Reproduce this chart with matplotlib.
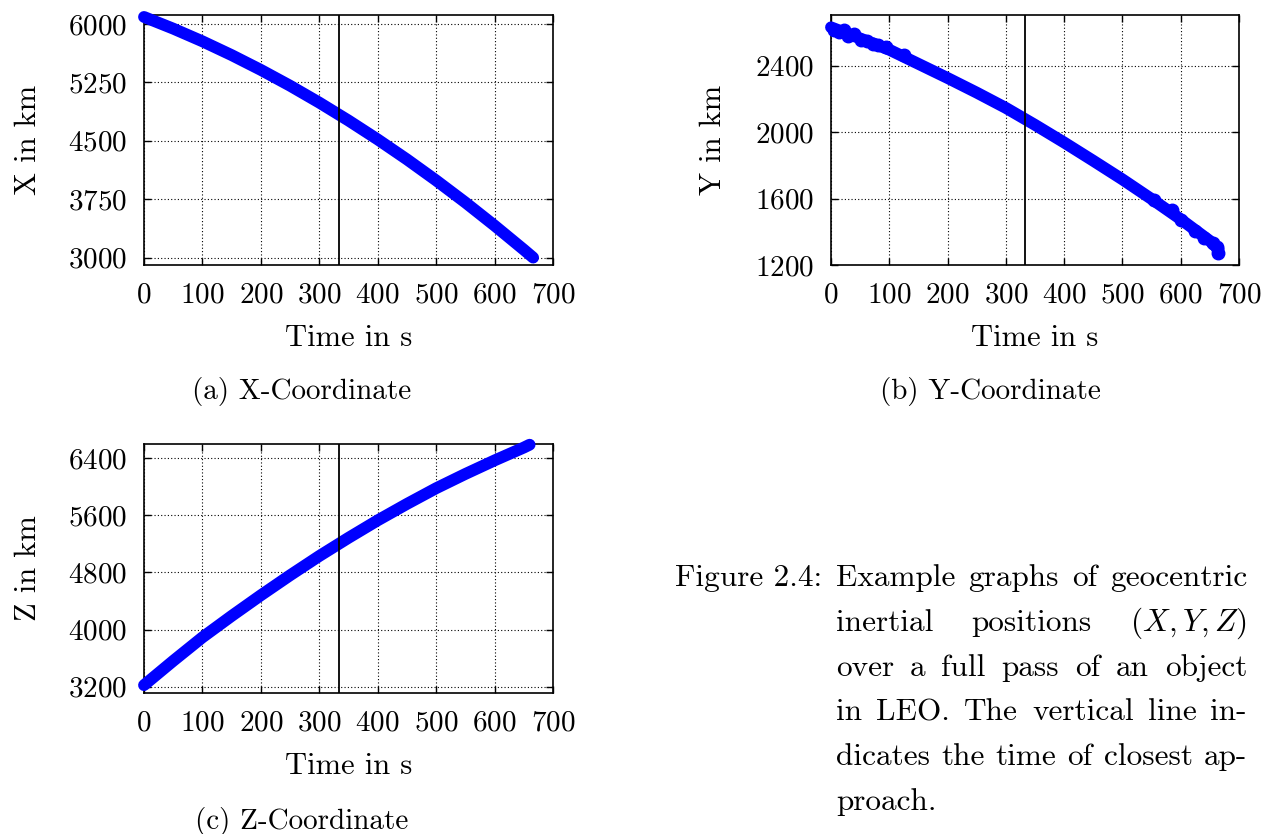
import numpy as np
import matplotlib.pyplot as plt

plt.rcParams['font.family'] = 'cmr10'
plt.rcParams['mathtext.fontset'] = 'cm'
plt.rcParams['axes.formatter.use_mathtext'] = True

# pass geometry (seconds since start of pass, km)
t_closest = 333

t_x = [0, 50, 100, 150, 200, 250, 300, 350, 400, 450, 500, 550, 600, 650, 666]
x_km = [6090, 5940, 5777, 5600, 5410, 5207, 4990, 4760, 4517, 4261, 3991, 3708, 3411, 3102, 3000]

t_y = [0, 50, 100, 150, 200, 250, 300, 350, 400, 450, 500, 550, 600, 650, 665]
y_km = [2630, 2563, 2495, 2410, 2325, 2237, 2145, 2043, 1937, 1827, 1715, 1597, 1475, 1345, 1295]
# scattered samples off the main track
t_y_pts = [6, 14, 22, 30, 40, 52, 62, 72, 80, 95, 125, 555, 585, 600, 625, 640, 655, 662, 664]
y_km_pts = [2612, 2600, 2615, 2575, 2590, 2555, 2548, 2530, 2525, 2510, 2462,
            1590, 1530, 1470, 1405, 1360, 1330, 1310, 1275]

t_z = [0, 50, 100, 150, 200, 250, 300, 350, 400, 450, 500, 550, 600, 650, 660]
z_km = [3220, 3560, 3890, 4190, 4480, 4760, 5030, 5285, 5530, 5760, 5980, 6180, 6370, 6550, 6590]

time_ticks = [0, 100, 200, 300, 400, 500, 600, 700]
x_ticks = [3000, 3750, 4500, 5250, 6000]
y_ticks = [1200, 1600, 2000, 2400]
z_ticks = [3200, 4000, 4800, 5600, 6400]

W, H = 1276, 834
BLUE = '#0000ff'
FS = 21


def px_rect(x0, y0, x1, y1):
    return [x0 / W, 1 - y1 / H, (x1 - x0) / W, (y1 - y0) / H]


def style_axes(ax, yticks, ylim, ylabel, ylab_x):
    ax.set_xlim(0, 700)
    ax.set_ylim(*ylim)
    ax.set_xticks(time_ticks)
    ax.set_yticks(yticks)
    ax.tick_params(direction='in', length=5, width=1, top=True, right=True,
                   labelsize=FS, pad=12)
    ax.grid(True, linestyle=(0, (1, 2)), color='black', linewidth=0.8)
    ax.set_axisbelow(True)
    for s in ax.spines.values():
        s.set_linewidth(1.2)
    ax.set_xlabel('Time in s', fontsize=FS + 1)
    ax.set_ylabel(ylabel, fontsize=FS + 1)
    ax.xaxis.set_label_coords(0.5, -0.24)
    ax.yaxis.set_label_coords(ylab_x, 0.5)
    ax.axvline(t_closest, color='black', linewidth=1.3, zorder=5)


def track(ax, t, v):
    ax.plot(t, v, '-', color=BLUE, linewidth=8.5, solid_capstyle='round',
            solid_joinstyle='round', zorder=3, clip_on=False)


fig = plt.figure(figsize=(W / 100, H / 100), dpi=100)

ax_a = fig.add_axes(px_rect(144, 15, 553, 265))
track(ax_a, t_x, x_km)
style_axes(ax_a, x_ticks, (2905, 6115), 'X in km', -0.25)

ax_b = fig.add_axes(px_rect(831, 15, 1239, 265))
track(ax_b, t_y, y_km)
ax_b.plot(t_y_pts, y_km_pts, 'o', color=BLUE, markersize=9, zorder=3, clip_on=False)
style_axes(ax_b, y_ticks, (1200, 2704), 'Y in km', -0.255)

ax_c = fig.add_axes(px_rect(144, 444, 553, 693))
track(ax_c, t_z, z_km)
style_axes(ax_c, z_ticks, (3110, 6600), 'Z in km', -0.25)

fig.text(302 / W, 1 - 392 / H, '(a) X-Coordinate', ha='center', va='center', fontsize=FS)
fig.text(990 / W, 1 - 392 / H, '(b) Y-Coordinate', ha='center', va='center', fontsize=FS)
fig.text(302 / W, 1 - 822 / H, '(c) Z-Coordinate', ha='center', va='center', fontsize=FS)

# figure caption, justified between two margins
cap_lines = [
    ['Example', 'graphs', 'of', 'geocentric'],
    ['inertial', 'positions', '$(X,Y,Z)$'],
    ['over', 'a', 'full', 'pass', 'of', 'an', 'object'],
    ['in', 'LEO.', 'The', 'vertical', 'line', 'in-'],
    ['dicates', 'the', 'time', 'of', 'closest', 'ap-'],
    ['proach.'],
]
cap_left, cap_right = 836, 1247
baseline0, leading = 586, 44.8
cap_fs = 22.5

fig.text(675 / W, 1 - baseline0 / H, 'Figure 2.4:', ha='left', va='baseline', fontsize=cap_fs)
renderer = fig.canvas.get_renderer()
for i, words in enumerate(cap_lines):
    yb = 1 - (baseline0 + i * leading) / H
    texts = [fig.text(0, yb, w, ha='left', va='baseline', fontsize=cap_fs) for w in words]
    widths = [t.get_window_extent(renderer).width for t in texts]
    if i < len(cap_lines) - 1 and len(words) > 1:
        gap = (cap_right - cap_left - sum(widths)) / (len(words) - 1)
    else:
        gap = 7
    x = cap_left
    for t, w in zip(texts, widths):
        t.set_x(x / W)
        x += w + gap

fig.savefig('out.png', dpi=100)
